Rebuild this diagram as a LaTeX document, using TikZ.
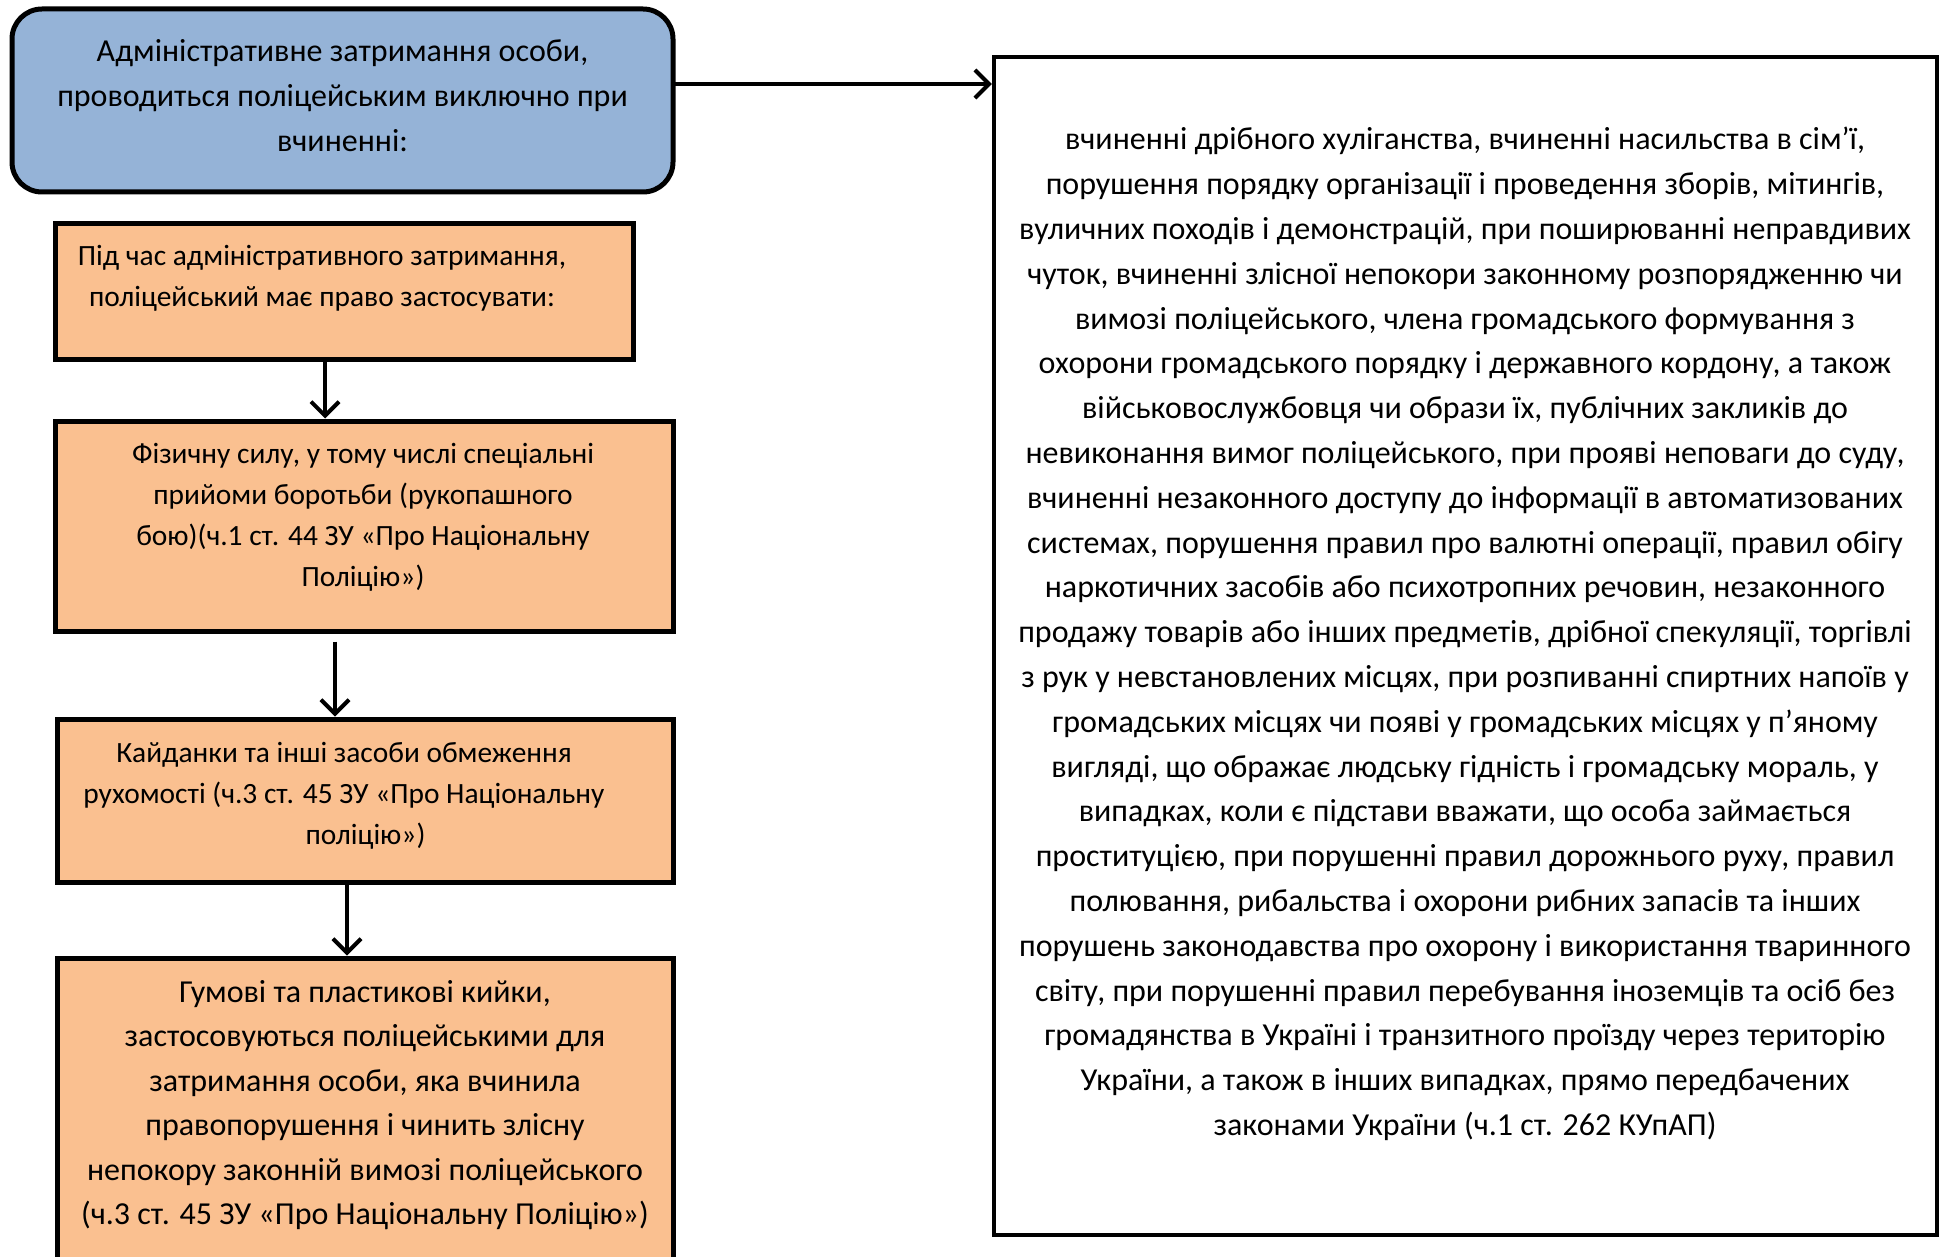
\documentclass[tikz,border=0pt]{standalone}
\usepackage{fontspec}
\setmainfont{Carlito}
\usetikzlibrary{arrows.meta}
\definecolor{boxblue}{HTML}{95B3D7}
\definecolor{boxorange}{HTML}{FAC090}
\tikzset{
  box/.style={draw=black, line width=5pt, inner sep=0pt},
  bigtxt/.style={align=center, inner sep=0pt, font=\fontsize{32}{44.8}\selectfont},
  smalltxt/.style={align=center, inner sep=0pt, font=\fontsize{29.4}{41}\selectfont},
  arr/.style={line width=4pt, -{Straight Barb[length=14pt,width=28pt,line width=4pt]}}
}
\begin{document}
\begin{tikzpicture}[x=1pt,y=-1pt]
\useasboundingbox (0,0) rectangle (1943,1257);
\clip (0,0) rectangle (1943,1257);
% boxes
\draw[box, fill=boxblue, rounded corners=30pt] (12,9) rectangle (673,192);
\node[inner sep=0pt, minimum width=661pt, minimum height=183pt] (blue) at (342.5,100.5) {};
\node[box, fill=boxorange, minimum width=578pt, minimum height=135pt] (b1) at (344,291.5) {};
\node[box, fill=boxorange, minimum width=618pt, minimum height=210pt] (b2) at (364,526) {};
\node[box, fill=boxorange, minimum width=616pt, minimum height=163pt] (b3) at (365,800.5) {};
\node[box, fill=boxorange, minimum width=616pt, minimum height=340pt] (b4) at (365,1128) {};
\node[box, line width=4.5pt, fill=white, minimum width=943pt, minimum height=1178pt] (rb) at (1465.5,646) {};
% texts
\node[bigtxt] (tblue) at (342.5,95.5) {Адміністративне затримання особи,\\проводиться поліцейським виключно при\\вчиненні:};
\node[smalltxt] (t1) at (322,278) {Під час адміністративного затримання,\\поліцейський має право застосувати:};
\node[smalltxt] (t2) at (363,517) {Фізичну силу, у тому числі спеціальні\\прийоми боротьби (рукопашного\\бою)(ч.1 ст. 44 ЗУ «Про Національну\\Поліцію»)};
\node[smalltxt] (t3) at (344,796) {Кайданки та інші засоби обмеження\\рухомості (ч.3 ст. 45 ЗУ «Про Національну\\\hspace*{43pt}поліцію»)};
\node[bigtxt, font=\fontsize{32}{44.5}\selectfont] (t4) at (365,1105) {Гумові та пластикові кийки,\\застосовуються поліцейськими для\\затримання особи, яка вчинила\\правопорушення і чинить злісну\\непокору законній вимозі поліцейського\\(ч.3 ст. 45 ЗУ «Про Національну Поліцію»)};
\node[bigtxt] (trb) at (1465,634) {вчиненні дрібного хуліганства, вчиненні насильства в сім’ї,\\
порушення порядку організації і проведення зборів, мітингів,\\
вуличних походів і демонстрацій, при поширюванні неправдивих\\
чуток, вчиненні злісної непокори законному розпорядженню чи\\
вимозі поліцейського, члена громадського формування з\\
охорони громадського порядку і державного кордону, а також\\
військовослужбовця чи образи їх, публічних закликів до\\
невиконання вимог поліцейського, при прояві неповаги до суду,\\
вчиненні незаконного доступу до інформації в автоматизованих\\
системах, порушення правил про валютні операції, правил обігу\\
наркотичних засобів або психотропних речовин, незаконного\\
продажу товарів або інших предметів, дрібної спекуляції, торгівлі\\
з рук у невстановлених місцях, при розпиванні спиртних напоїв у\\
громадських місцях чи появі у громадських місцях у п’яному\\
вигляді, що ображає людську гідність і громадську мораль, у\\
випадках, коли є підстави вважати, що особа займається\\
проституцією, при порушенні правил дорожнього руху, правил\\
полювання, рибальства і охорони рибних запасів та інших\\
порушень законодавства про охорону і використання тваринного\\
світу, при порушенні правил перебування іноземців та осіб без\\
громадянства в Україні і транзитного проїзду через територію\\
України, а також в інших випадках, прямо передбачених\\
законами України (ч.1 ст. 262 КУпАП)};
% connectors
\coordinate (c0) at (0,84);
\coordinate (c1) at (325,0);
\coordinate (c2) at (335,0);
\coordinate (c3) at (347,0);
\draw[arr] (blue.east |- c0) -- (rb.west |- c0);
\draw[arr] (b1.south -| c1) -- (b2.north -| c1);
\draw[arr, shorten <=8pt] (b2.south -| c2) -- (b3.north -| c2);
\draw[arr] (b3.south -| c3) -- (b4.north -| c3);
\end{tikzpicture}
\end{document}
